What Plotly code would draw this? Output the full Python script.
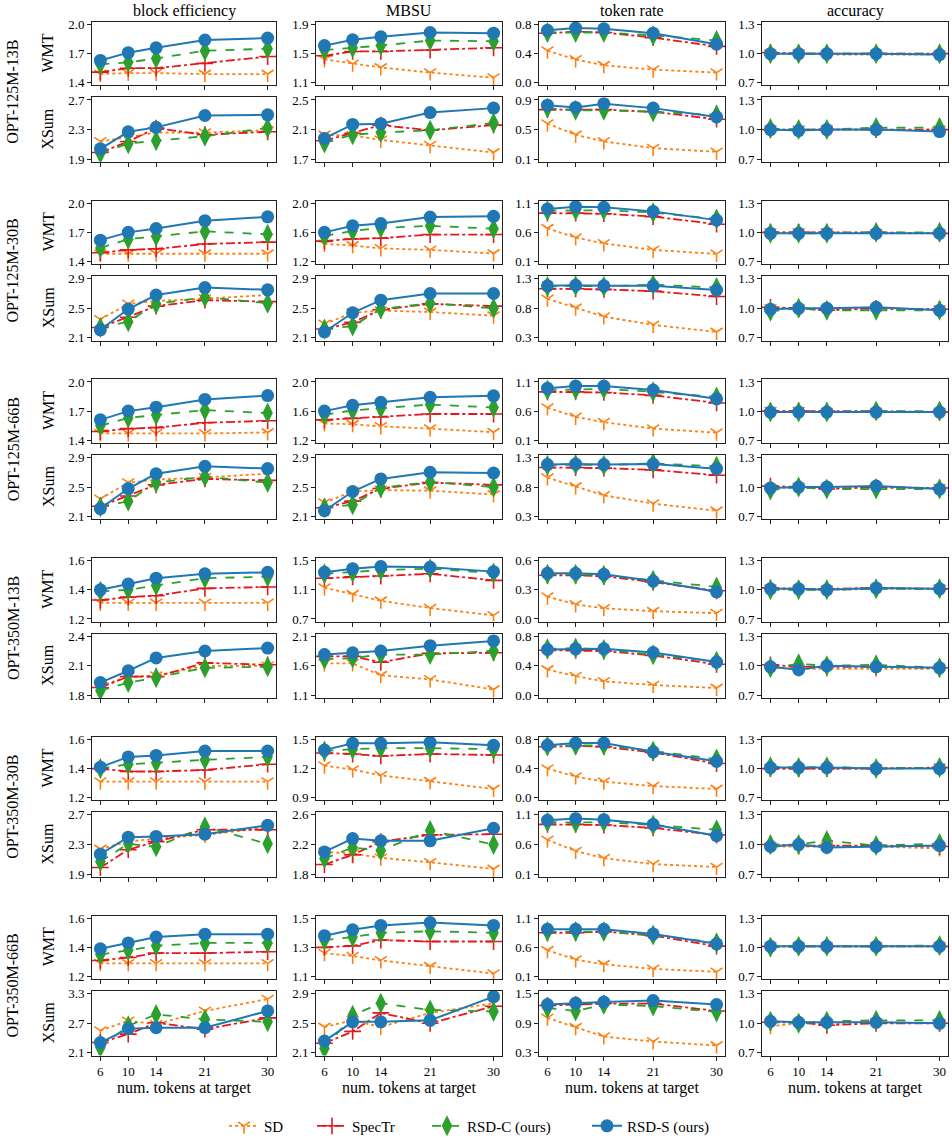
import plotly.graph_objects as go

# ---------------- data ----------------
x_tokens = [6, 10, 14, 21, 30]
series_names = ["SD", "SpecTr", "RSD-C (ours)", "RSD-S (ours)"]
metric_titles = ["block efficiency", "MBSU", "token rate", "accuracy"]
model_pairs = ["OPT-125M-13B", "OPT-125M-30B", "OPT-125M-66B",
               "OPT-350M-13B", "OPT-350M-30B", "OPT-350M-66B"]
datasets = ["WMT", "XSum"]
x_title = "num. tokens at target"

# every subplot: [SD, SpecTr, RSD-C, RSD-S]
# ---- OPT-125M-13B ----
m125_13_wmt_be = [[1.49, 1.50, 1.50, 1.49, 1.49], [1.51, 1.55, 1.55, 1.60, 1.67],
                  [1.59, 1.61, 1.65, 1.73, 1.75], [1.63, 1.71, 1.76, 1.84, 1.86]]
m125_13_wmt_mbsu = [[1.42, 1.36, 1.31, 1.24, 1.17], [1.47, 1.53, 1.53, 1.55, 1.58],
                    [1.55, 1.58, 1.61, 1.68, 1.67], [1.61, 1.69, 1.73, 1.79, 1.78]]
m125_13_wmt_tr = [[0.44, 0.32, 0.24, 0.18, 0.14], [0.68, 0.70, 0.69, 0.62, 0.50],
                  [0.69, 0.69, 0.69, 0.65, 0.58], [0.72, 0.75, 0.74, 0.68, 0.53]]
m125_13_wmt_acc = [[1.00, 1.00, 0.99, 0.99, 0.99], [1.01, 1.00, 1.00, 1.00, 1.00],
                   [1.00, 1.00, 1.00, 1.00, 1.00], [1.00, 1.00, 1.00, 1.00, 0.99]]
m125_13_wmt_ticks = [[1.4, 1.7, 2.0], [1.1, 1.5, 1.9], [0.0, 0.4, 0.8], [0.7, 1.0, 1.3]]

m125_13_xsum_be = [[2.14, 2.20, 2.26, 2.26, 2.29], [1.99, 2.14, 2.32, 2.23, 2.27],
                   [1.98, 2.11, 2.15, 2.21, 2.32], [2.04, 2.27, 2.33, 2.49, 2.50]]
m125_13_xsum_mbsu = [[2.03, 2.02, 1.96, 1.89, 1.79], [1.95, 2.05, 2.16, 2.09, 2.16],
                     [1.92, 2.03, 2.06, 2.09, 2.19], [1.98, 2.17, 2.18, 2.33, 2.39]]
m125_13_xsum_tr = [[0.58, 0.43, 0.34, 0.25, 0.20], [0.77, 0.77, 0.77, 0.74, 0.64],
                   [0.79, 0.76, 0.76, 0.74, 0.70], [0.83, 0.80, 0.85, 0.79, 0.67]]
m125_13_xsum_acc = [[1.00, 1.00, 1.00, 1.00, 1.00], [1.00, 1.00, 1.00, 1.00, 1.00],
                    [1.01, 1.00, 1.00, 1.02, 1.02], [1.00, 0.99, 1.00, 1.00, 0.98]]
m125_13_xsum_ticks = [[1.9, 2.3, 2.7], [1.7, 2.1, 2.5], [0.1, 0.5, 0.9], [0.7, 1.0, 1.3]]

# ---- OPT-125M-30B ----
m125_30_wmt_be = [[1.48, 1.48, 1.48, 1.48, 1.48], [1.49, 1.52, 1.53, 1.58, 1.60],
                  [1.54, 1.63, 1.66, 1.71, 1.68], [1.62, 1.70, 1.74, 1.82, 1.86]]
m125_30_wmt_mbsu = [[1.44, 1.42, 1.38, 1.36, 1.31], [1.48, 1.51, 1.52, 1.57, 1.57],
                    [1.55, 1.62, 1.66, 1.69, 1.65], [1.60, 1.69, 1.72, 1.81, 1.82]]
m125_30_wmt_tr = [[0.67, 0.51, 0.41, 0.30, 0.23], [0.93, 0.93, 0.92, 0.87, 0.74],
                  [0.97, 0.98, 0.98, 0.94, 0.83], [1.00, 1.04, 1.03, 0.96, 0.81]]
m125_30_wmt_acc = [[1.00, 1.00, 1.00, 0.99, 0.99], [1.00, 1.00, 1.00, 1.00, 0.99],
                   [0.99, 0.99, 0.99, 1.00, 1.00], [0.99, 0.99, 0.99, 0.99, 0.99]]
m125_30_wmt_ticks = [[1.4, 1.7, 2.0], [1.2, 1.6, 2.0], [0.1, 0.6, 1.1], [0.7, 1.0, 1.3]]

m125_30_xsum_be = [[2.35, 2.56, 2.60, 2.63, 2.68], [2.24, 2.38, 2.53, 2.61, 2.59],
                   [2.24, 2.32, 2.56, 2.65, 2.57], [2.21, 2.49, 2.68, 2.78, 2.75]]
m125_30_xsum_mbsu = [[2.29, 2.44, 2.47, 2.45, 2.40], [2.22, 2.31, 2.48, 2.56, 2.53],
                     [2.22, 2.26, 2.49, 2.57, 2.50], [2.18, 2.44, 2.61, 2.70, 2.70]]
m125_30_xsum_tr = [[0.96, 0.81, 0.66, 0.52, 0.40], [1.13, 1.13, 1.12, 1.09, 1.00],
                   [1.17, 1.18, 1.17, 1.20, 1.15], [1.18, 1.19, 1.18, 1.18, 1.11]]
m125_30_xsum_acc = [[1.00, 1.00, 0.99, 0.99, 0.99], [1.01, 1.00, 0.98, 1.00, 0.99],
                    [0.97, 1.00, 0.98, 0.98, 0.98], [0.99, 1.00, 1.00, 1.01, 0.98]]
m125_30_xsum_ticks = [[2.1, 2.5, 2.9], [2.1, 2.5, 2.9], [0.3, 0.8, 1.3], [0.7, 1.0, 1.3]]

# ---- OPT-125M-66B ----
m125_66_wmt_be = [[1.47, 1.47, 1.47, 1.47, 1.48], [1.49, 1.52, 1.53, 1.58, 1.60],
                  [1.55, 1.63, 1.66, 1.71, 1.68], [1.61, 1.70, 1.74, 1.82, 1.86]]
m125_66_wmt_mbsu = [[1.43, 1.42, 1.39, 1.36, 1.31], [1.48, 1.50, 1.52, 1.56, 1.56],
                    [1.55, 1.61, 1.64, 1.69, 1.65], [1.60, 1.68, 1.72, 1.79, 1.81]]
m125_66_wmt_tr = [[0.66, 0.50, 0.41, 0.30, 0.23], [0.93, 0.93, 0.92, 0.87, 0.74],
                  [0.96, 0.97, 0.98, 0.93, 0.84], [0.99, 1.03, 1.03, 0.96, 0.81]]
m125_66_wmt_acc = [[1.00, 1.00, 0.99, 0.99, 0.99], [1.00, 1.00, 1.00, 1.00, 0.99],
                   [0.99, 0.99, 0.99, 1.00, 1.00], [0.99, 0.99, 0.99, 0.99, 0.99]]
m125_66_wmt_ticks = [[1.4, 1.7, 2.0], [1.2, 1.6, 2.0], [0.1, 0.6, 1.1], [0.7, 1.0, 1.3]]

m125_66_xsum_be = [[2.34, 2.56, 2.60, 2.63, 2.68], [2.24, 2.38, 2.53, 2.61, 2.59],
                   [2.23, 2.31, 2.56, 2.64, 2.56], [2.21, 2.48, 2.68, 2.78, 2.75]]
m125_66_xsum_mbsu = [[2.29, 2.44, 2.46, 2.45, 2.40], [2.22, 2.31, 2.48, 2.56, 2.53],
                     [2.22, 2.26, 2.49, 2.57, 2.50], [2.18, 2.44, 2.61, 2.70, 2.69]]
m125_66_xsum_tr = [[0.96, 0.81, 0.66, 0.52, 0.40], [1.13, 1.13, 1.12, 1.09, 1.00],
                   [1.17, 1.18, 1.17, 1.20, 1.15], [1.18, 1.19, 1.18, 1.19, 1.11]]
m125_66_xsum_acc = [[0.99, 1.00, 0.99, 0.99, 0.99], [1.01, 1.00, 0.98, 1.00, 0.99],
                    [0.97, 1.00, 0.98, 0.98, 0.98], [0.99, 1.00, 1.00, 1.01, 0.98]]
m125_66_xsum_ticks = [[2.1, 2.5, 2.9], [2.1, 2.5, 2.9], [0.3, 0.8, 1.3], [0.7, 1.0, 1.3]]

# ---- OPT-350M-13B ----
m350_13_wmt_be = [[1.31, 1.31, 1.31, 1.31, 1.31], [1.33, 1.35, 1.36, 1.41, 1.42],
                  [1.39, 1.40, 1.43, 1.48, 1.49], [1.40, 1.44, 1.48, 1.51, 1.52]]
m350_13_wmt_mbsu = [[1.13, 1.04, 0.95, 0.85, 0.75], [1.26, 1.28, 1.29, 1.32, 1.23],
                    [1.32, 1.34, 1.37, 1.39, 1.33], [1.34, 1.39, 1.42, 1.41, 1.35]]
m350_13_wmt_tr = [[0.23, 0.15, 0.11, 0.08, 0.06], [0.45, 0.45, 0.44, 0.38, 0.29],
                  [0.46, 0.46, 0.45, 0.40, 0.33], [0.47, 0.47, 0.46, 0.39, 0.28]]
m350_13_wmt_acc = [[1.01, 1.00, 1.00, 1.01, 1.01], [1.02, 1.01, 1.01, 1.02, 1.01],
                   [1.00, 1.00, 1.00, 1.01, 1.01], [1.01, 1.01, 1.00, 1.02, 1.01]]
m350_13_wmt_ticks = [[1.2, 1.4, 1.6], [0.7, 1.1, 1.5], [0.0, 0.3, 0.6], [0.7, 1.0, 1.3]]

m350_13_xsum_be = [[1.90, 1.99, 2.00, 2.10, 2.10], [1.88, 1.99, 1.99, 2.13, 2.11],
                   [1.85, 1.93, 1.98, 2.08, 2.09], [1.93, 2.05, 2.18, 2.25, 2.28]]
m350_13_xsum_mbsu = [[1.64, 1.64, 1.44, 1.37, 1.20], [1.76, 1.76, 1.66, 1.81, 1.82],
                     [1.71, 1.73, 1.79, 1.79, 1.85], [1.79, 1.82, 1.85, 1.94, 2.02]]
m350_13_xsum_tr = [[0.35, 0.26, 0.19, 0.14, 0.10], [0.61, 0.61, 0.60, 0.54, 0.42],
                   [0.63, 0.64, 0.62, 0.55, 0.46], [0.62, 0.63, 0.63, 0.58, 0.45]]
m350_13_xsum_acc = [[0.98, 0.97, 0.97, 0.97, 0.97], [1.01, 0.99, 0.99, 0.99, 0.98],
                    [0.98, 1.02, 1.00, 1.01, 0.98], [0.99, 0.96, 1.00, 0.99, 0.98]]
m350_13_xsum_ticks = [[1.8, 2.1, 2.4], [1.1, 1.6, 2.1], [0.0, 0.4, 0.8], [0.7, 1.0, 1.3]]

# ---- OPT-350M-30B ----
m350_30_wmt_be = [[1.31, 1.31, 1.31, 1.31, 1.31], [1.40, 1.38, 1.38, 1.39, 1.43],
                  [1.40, 1.43, 1.44, 1.46, 1.48], [1.41, 1.48, 1.49, 1.52, 1.52]]
m350_30_wmt_mbsu = [[1.23, 1.19, 1.13, 1.07, 0.99], [1.36, 1.35, 1.33, 1.35, 1.34],
                    [1.38, 1.40, 1.41, 1.41, 1.40], [1.39, 1.46, 1.46, 1.47, 1.44]]
m350_30_wmt_tr = [[0.40, 0.29, 0.22, 0.16, 0.12], [0.70, 0.71, 0.70, 0.62, 0.47],
                  [0.71, 0.72, 0.72, 0.64, 0.53], [0.72, 0.75, 0.75, 0.63, 0.50]]
m350_30_wmt_acc = [[1.00, 1.00, 1.00, 1.00, 1.01], [1.00, 1.00, 1.00, 1.00, 1.01],
                   [1.02, 1.01, 1.02, 1.00, 1.01], [1.01, 1.01, 1.01, 1.00, 1.00]]
m350_30_wmt_ticks = [[1.2, 1.4, 1.6], [0.9, 1.2, 1.5], [0.0, 0.4, 0.8], [0.7, 1.0, 1.3]]

m350_30_xsum_be = [[2.24, 2.34, 2.38, 2.43, 2.53], [1.99, 2.23, 2.34, 2.50, 2.50],
                   [2.07, 2.31, 2.27, 2.54, 2.31], [2.17, 2.40, 2.41, 2.44, 2.56]]
m350_30_xsum_mbsu = [[2.10, 2.08, 2.02, 1.96, 1.87], [1.93, 2.06, 2.24, 2.33, 2.34],
                     [2.01, 2.16, 2.12, 2.39, 2.20], [2.10, 2.28, 2.25, 2.25, 2.42]]
m350_30_xsum_tr = [[0.68, 0.49, 0.37, 0.27, 0.22], [0.94, 0.94, 0.93, 0.88, 0.76],
                   [0.98, 0.97, 0.98, 0.93, 0.85], [1.01, 1.04, 1.02, 0.94, 0.75]]
m350_30_xsum_acc = [[0.98, 0.98, 0.98, 0.98, 0.96], [1.00, 0.99, 0.99, 0.99, 0.98],
                    [1.00, 1.00, 1.04, 0.99, 1.01], [0.98, 1.00, 0.97, 0.98, 0.99]]
m350_30_xsum_ticks = [[1.9, 2.3, 2.7], [1.8, 2.2, 2.6], [0.1, 0.6, 1.1], [0.7, 1.0, 1.3]]

# ---- OPT-350M-66B ----
m350_66_wmt_be = [[1.29, 1.29, 1.29, 1.29, 1.29], [1.31, 1.33, 1.36, 1.36, 1.37],
                  [1.35, 1.38, 1.41, 1.43, 1.43], [1.39, 1.43, 1.47, 1.49, 1.49]]
m350_66_wmt_mbsu = [[1.26, 1.24, 1.21, 1.17, 1.12], [1.30, 1.31, 1.35, 1.34, 1.34],
                    [1.35, 1.37, 1.40, 1.41, 1.40], [1.38, 1.42, 1.45, 1.47, 1.45]]
m350_66_wmt_tr = [[0.55, 0.39, 0.31, 0.23, 0.18], [0.85, 0.85, 0.87, 0.80, 0.62],
                  [0.87, 0.87, 0.87, 0.81, 0.68], [0.91, 0.91, 0.91, 0.83, 0.66]]
m350_66_wmt_acc = [[1.01, 1.01, 1.01, 1.01, 1.01], [1.01, 1.01, 1.01, 1.01, 1.01],
                   [1.00, 1.01, 1.01, 1.01, 1.02], [1.01, 1.01, 1.01, 1.01, 1.01]]
m350_66_wmt_ticks = [[1.2, 1.4, 1.6], [1.1, 1.3, 1.5], [0.1, 0.6, 1.1], [0.7, 1.0, 1.3]]

m350_66_xsum_be = [[2.55, 2.75, 2.68, 2.95, 3.19], [2.31, 2.48, 2.71, 2.58, 2.81],
                   [2.21, 2.65, 2.88, 2.78, 2.73], [2.31, 2.59, 2.61, 2.61, 2.95]]
m350_66_xsum_mbsu = [[2.45, 2.54, 2.45, 2.64, 2.77], [2.23, 2.39, 2.64, 2.50, 2.73],
                     [2.16, 2.61, 2.77, 2.68, 2.66], [2.26, 2.52, 2.52, 2.54, 2.86]]
m350_66_xsum_tr = [[1.01, 0.82, 0.63, 0.53, 0.45], [1.26, 1.28, 1.30, 1.30, 1.15],
                   [1.21, 1.15, 1.28, 1.25, 1.13], [1.28, 1.31, 1.33, 1.36, 1.28]]
m350_66_xsum_acc = [[0.97, 1.00, 1.00, 1.01, 1.00], [1.01, 1.01, 0.98, 1.00, 1.00],
                    [1.02, 1.00, 1.02, 1.03, 1.03], [1.02, 1.01, 1.01, 1.01, 1.00]]
m350_66_xsum_ticks = [[2.1, 2.7, 3.3], [2.1, 2.5, 2.9], [0.3, 0.9, 1.5], [0.7, 1.0, 1.3]]

rows = [
    (m125_13_wmt_ticks, [m125_13_wmt_be, m125_13_wmt_mbsu, m125_13_wmt_tr, m125_13_wmt_acc]),
    (m125_13_xsum_ticks, [m125_13_xsum_be, m125_13_xsum_mbsu, m125_13_xsum_tr, m125_13_xsum_acc]),
    (m125_30_wmt_ticks, [m125_30_wmt_be, m125_30_wmt_mbsu, m125_30_wmt_tr, m125_30_wmt_acc]),
    (m125_30_xsum_ticks, [m125_30_xsum_be, m125_30_xsum_mbsu, m125_30_xsum_tr, m125_30_xsum_acc]),
    (m125_66_wmt_ticks, [m125_66_wmt_be, m125_66_wmt_mbsu, m125_66_wmt_tr, m125_66_wmt_acc]),
    (m125_66_xsum_ticks, [m125_66_xsum_be, m125_66_xsum_mbsu, m125_66_xsum_tr, m125_66_xsum_acc]),
    (m350_13_wmt_ticks, [m350_13_wmt_be, m350_13_wmt_mbsu, m350_13_wmt_tr, m350_13_wmt_acc]),
    (m350_13_xsum_ticks, [m350_13_xsum_be, m350_13_xsum_mbsu, m350_13_xsum_tr, m350_13_xsum_acc]),
    (m350_30_wmt_ticks, [m350_30_wmt_be, m350_30_wmt_mbsu, m350_30_wmt_tr, m350_30_wmt_acc]),
    (m350_30_xsum_ticks, [m350_30_xsum_be, m350_30_xsum_mbsu, m350_30_xsum_tr, m350_30_xsum_acc]),
    (m350_66_wmt_ticks, [m350_66_wmt_be, m350_66_wmt_mbsu, m350_66_wmt_tr, m350_66_wmt_acc]),
    (m350_66_xsum_ticks, [m350_66_xsum_be, m350_66_xsum_mbsu, m350_66_xsum_tr, m350_66_xsum_acc]),
]

# ---------------- styling ----------------
W, H = 952, 1143
SERIF = "Liberation Serif, serif"
styles = [
    dict(color="#ff7f0e", dash="dot", symbol="y-down", size=10, width=1.8),
    dict(color="#e8161b", dash="dashdot", symbol="cross-thin", size=12, width=1.8),
    dict(color="#2ca02c", dash="dash", symbol="diamond-tall", size=15, width=1.8),
    dict(color="#1f77b4", dash="solid", symbol="circle", size=13, width=2.0),
]
col_px = [(92, 276), (316, 502), (539, 725), (762, 948)]
legend_px = [230, 318, 433, 593]
legend_keys = ["legend", "legend2", "legend3", "legend4"]


def px_x(p):
    return p / W


def px_y(p):
    return 1 - p / H


def row_px(r):
    p, k = divmod(r, 2)
    top = 22 + 180 * p + (76 if k else 0)
    return top, top + (65 if k else 64)


fig = go.Figure()
for r, (ticks, panels) in enumerate(rows):
    t, b = row_px(r)
    for c in range(4):
        idx = r * 4 + c + 1
        xa = "x" if idx == 1 else f"x{idx}"
        ya = "y" if idx == 1 else f"y{idx}"
        for s, vals in enumerate(panels[c]):
            st = styles[s]
            sym_line = st["symbol"] in ("y-down", "cross-thin")
            fig.add_trace(go.Scatter(
                x=x_tokens, y=vals, xaxis=xa, yaxis=ya, mode="lines+markers",
                name=series_names[s], legendgroup=series_names[s],
                legend=legend_keys[s], showlegend=(idx == 1),
                line=dict(color=st["color"], dash=st["dash"], width=st["width"]),
                marker=dict(symbol=st["symbol"], size=st["size"], color=st["color"],
                            line=dict(color=st["color"], width=1.6 if sym_line else 0)),
            ))
        tv = ticks[c]
        span = tv[-1] - tv[0]
        x0, x1 = col_px[c]
        axis_common = dict(showline=True, mirror=True, linecolor="#222", linewidth=1,
                           ticks="outside", ticklen=4, tickcolor="#222", showgrid=False,
                           zeroline=False, automargin=False,
                           tickfont=dict(family=SERIF, size=13, color="black"))
        fig.layout[("xaxis" if idx == 1 else f"xaxis{idx}")] = dict(
            domain=[px_x(x0), px_x(x1)], anchor=ya, range=[4.8, 31.2],
            tickvals=x_tokens, ticktext=[str(v) for v in x_tokens],
            showticklabels=(r == len(rows) - 1), **axis_common)
        fig.layout[("yaxis" if idx == 1 else f"yaxis{idx}")] = dict(
            domain=[px_y(b), px_y(t)], anchor=xa,
            range=[tv[0] - 0.045 * span, tv[-1] + 0.045 * span],
            tickvals=tv, ticktext=[f"{v:.1f}" for v in tv], **axis_common)

ann = []
for c, title in enumerate(metric_titles):
    xc = px_x((col_px[c][0] + col_px[c][1]) / 2)
    ann.append(dict(text=title, x=xc, y=px_y(11), xref="paper", yref="paper",
                    showarrow=False, xanchor="center", yanchor="middle",
                    font=dict(family=SERIF, size=16, color="black")))
    ann.append(dict(text=x_title, x=xc, y=px_y(1096), xref="paper", yref="paper",
                    showarrow=False, xanchor="center", yanchor="middle",
                    font=dict(family=SERIF, size=16, color="black")))
for r in range(len(rows)):
    t, b = row_px(r)
    ann.append(dict(text=datasets[r % 2], x=px_x(48), y=px_y((t + b) / 2),
                    xref="paper", yref="paper", showarrow=False, textangle=-90,
                    xanchor="center", yanchor="middle",
                    font=dict(family=SERIF, size=16, color="black")))
for p, name in enumerate(model_pairs):
    t, _ = row_px(2 * p)
    _, b = row_px(2 * p + 1)
    ann.append(dict(text=name, x=px_x(13), y=px_y((t + b) / 2),
                    xref="paper", yref="paper", showarrow=False, textangle=-90,
                    xanchor="center", yanchor="middle",
                    font=dict(family=SERIF, size=16, color="black")))

layout_kw = dict(
    width=W, height=H, margin=dict(l=0, r=0, t=0, b=0),
    paper_bgcolor="white", plot_bgcolor="white", annotations=ann,
)
for key, lx in zip(legend_keys, legend_px):
    layout_kw[key] = dict(orientation="h", x=px_x(lx - 6), y=px_y(1134),
                          xanchor="left", yanchor="middle", itemwidth=30,
                          font=dict(family=SERIF, size=15, color="black"),
                          bgcolor="rgba(0,0,0,0)")
fig.update_layout(**layout_kw)
fig.write_html(
    "out.html",
    config={"displayModeBar": False},
    post_script="document.body.style.margin='0';document.body.style.overflow='hidden';",
)
